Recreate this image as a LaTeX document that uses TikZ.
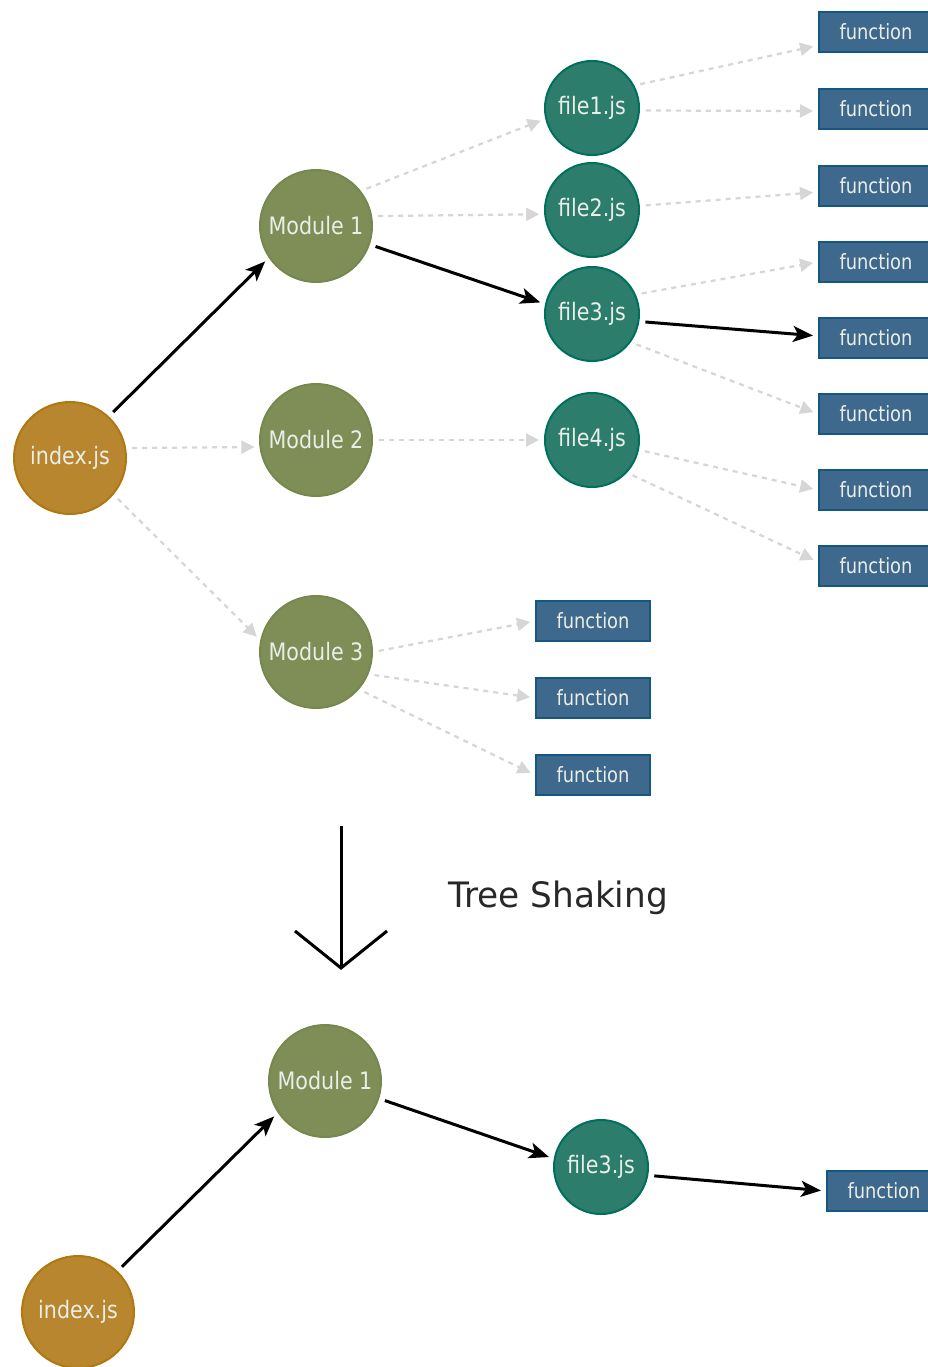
\documentclass[tikz,border=0pt]{standalone}
\usepackage{fontspec}
\usetikzlibrary{arrows.meta}
\newfontfamily\nodefont[FakeStretch=0.86]{DejaVu Sans}
\newfontfamily\boxfont[FakeStretch=0.85]{DejaVu Sans}
\newfontfamily\titlefont[FakeStretch=0.98]{DejaVu Sans}
\definecolor{entryfill}{RGB}{184,134,46}
\definecolor{entryline}{RGB}{176,120,16}
\definecolor{modfill}{RGB}{126,142,86}
\definecolor{modline}{RGB}{118,136,78}
\definecolor{filefill}{RGB}{44,125,108}
\definecolor{fileline}{RGB}{0,112,92}
\definecolor{funcfill}{RGB}{62,104,140}
\definecolor{funcline}{RGB}{18,88,130}
\definecolor{nodetext}{RGB}{234,238,232}
\definecolor{unusedgray}{RGB}{214,214,214}
\definecolor{titletext}{RGB}{40,40,40}
\begin{document}
\begin{tikzpicture}[x=1pt,y=-1pt,
  circ/.style={circle, minimum size=112pt, inner sep=0pt, line width=2pt,
    text=nodetext, font=\nodefont\fontsize{24}{24}\selectfont},
  entry/.style={circ, fill=entryfill, draw=entryline},
  module/.style={circ, fill=modfill, draw=modline},
  file/.style={circ, minimum size=94pt, fill=filefill, draw=fileline},
  func/.style={rectangle, minimum width=114pt, minimum height=40pt, inner sep=0pt,
    fill=funcfill, draw=funcline, line width=2pt, text=nodetext,
    font=\boxfont\fontsize{21}{21}\selectfont},
  unused/.style={draw=unusedgray, line width=2.2pt, dash pattern=on 5pt off 5pt,
    -{Triangle[length=13pt,width=13pt]}, shorten <=6pt, shorten >=5pt},
  used/.style={draw=black, line width=3pt,
    -{Stealth[length=20pt,width=16pt,inset=5pt]}, shorten <=6pt, shorten >=5pt}
]
\useasboundingbox[fill=white] (0,0) rectangle (928,1367);

% full dependency tree
\node[entry]  (idx) at (70,458)  {index.js};
\node[module] (m1)  at (316,226) {Module 1};
\node[module] (m2)  at (316,440) {Module 2};
\node[module] (m3)  at (316,652) {Module 3};
\node[file]   (f1)  at (592,108) {file1.js};
\node[file]   (f2)  at (592,210) {file2.js};
\node[file]   (f3)  at (592,314) {file3.js};
\node[file]   (f4)  at (592,440) {file4.js};

\node[func] (fn1) at (876,32)  {function};
\node[func] (fn2) at (876,109) {function};
\node[func] (fn3) at (876,186) {function};
\node[func] (fn4) at (876,262) {function};
\node[func] (fn5) at (876,338) {function};
\node[func] (fn6) at (876,414) {function};
\node[func] (fn7) at (876,490) {function};
\node[func] (fn8) at (876,566) {function};

\node[func] (fa) at (593,621) {function};
\node[func] (fb) at (593,698) {function};
\node[func] (fc) at (593,775) {function};

\draw[used]   (idx.47) -- (m1.214);
\draw[unused] (idx.10) -- (m2.187);
\draw[unused] (idx.-40) -- (m3.168);

\draw[unused] (m1.38) -- (f1.193);
\draw[unused] (m1.10) -- (f2.185);
\draw[used]   (m1.-19) -- (f3.168);
\draw[unused] (m2.0) -- (f4.180);

\draw[unused] (f1.28) -- (fn1.193);
\draw[unused] (f1.-3) -- (fn2.182);
\draw[unused] (f2.5) -- (fn3.186);
\draw[unused] (f3.24) -- (fn4.west);
\draw[used]   (f3.-9) -- (fn5.178);
\draw[unused] (f3.-36) -- (fn6.west);
\draw[unused] (f4.-12) -- (fn7.west);
\draw[unused] (f4.-43) -- (fn8.176);

\draw[unused] (m3.0) -- (fa.west);
\draw[unused] (m3.-23) -- (fb.west);
\draw[unused] (m3.-41) -- (fc.west);

% tree shaking step
\coordinate (tstop) at (341,826);
\coordinate (tstip) at (341,968);
\coordinate (tsl) at (295,931);
\coordinate (tsr) at (387,931);
\draw[line width=3pt] (tstop) -- (tstip);
\draw[line width=3pt, line join=miter] (tsl) -- (tstip) -- (tsr);
\node[anchor=base west, inner sep=0pt, text=titletext,
  font=\titlefont\fontsize{35}{35}\selectfont] (tslabel) at (448,907) {Tree Shaking};

% remaining tree
\node[entry]  (idxb) at (78,1312)  {index.js};
\node[module] (m1b)  at (325,1081) {Module 1};
\node[file]   (f3b)  at (601,1167) {file3.js};
\node[func]   (fnb)  at (884,1191) {function};

\draw[used] (idxb.46) -- (m1b.214);
\draw[used] (m1b.-18) -- (f3b.170);
\draw[used] (f3b.-10) -- (fnb.west);
\end{tikzpicture}
\end{document}
